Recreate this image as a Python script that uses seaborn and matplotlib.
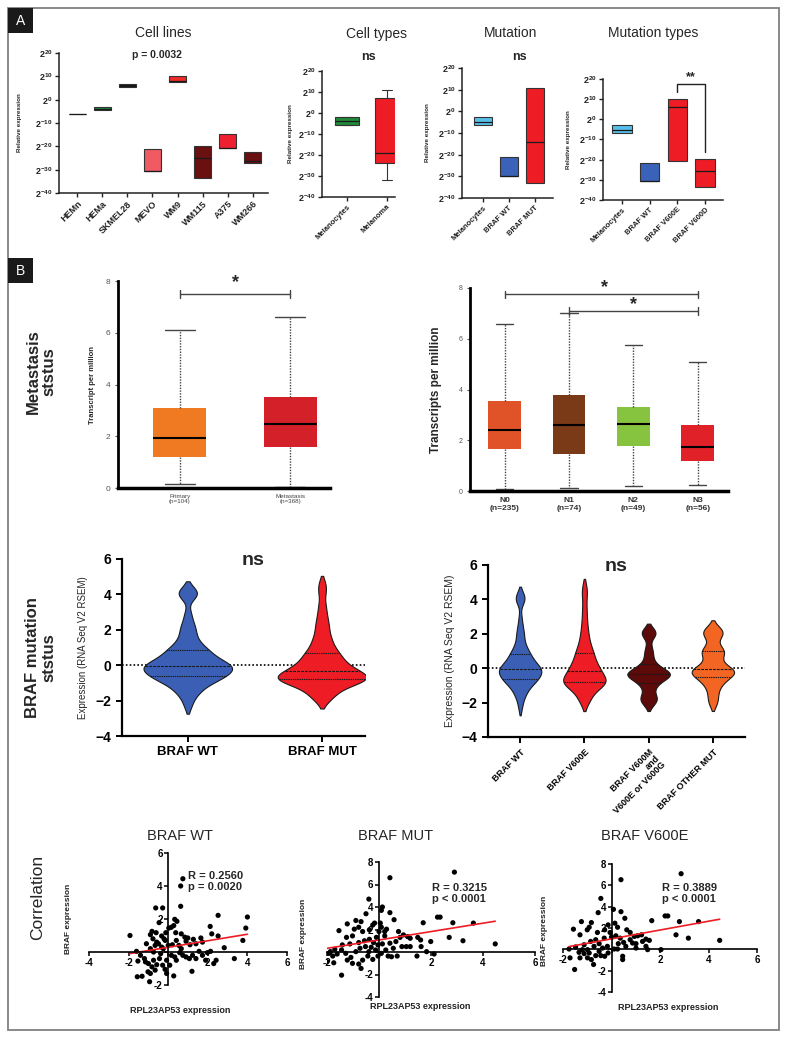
import numpy as np
import pandas as pd
import seaborn as sns
import matplotlib.pyplot as plt
from matplotlib.patches import Rectangle

# ---------------- data ----------------
# panel A: log2 relative expression (box = q1..q3, line = median)
cell_lines = ['HEMn', 'HEMa', 'SKMEL28', 'MEVO', 'WM9', 'WM115', 'A375', 'WM266']
cl_q3 = [-6.0, -3.3, 6.5, -21.0, 10.3, -19.7, -14.6, -22.3]
cl_q1 = [-6.0, -4.6, 5.6, -30.5, 7.7, -33.5, -20.6, -27.0]
cl_med = [-6.0, -4.0, 6.0, -30.5, 8.2, -25.0, -20.6, -26.3]
cl_colors = ['#222222', '#1e8a3c', '#111111', '#f05a62', '#ee2a2a', '#6a1010', '#ee2030', '#6a1010']

cell_types = ['Melanocytes', 'Melanoma']
ct_q3 = [-2.0, 7.0]
ct_q1 = [-5.7, -24.0]
ct_med = [-4.0, -19.0]
ct_hi = [-2.0, 11.0]
ct_lo = [-5.7, -32.0]
ct_colors = ['#1f8b3a', '#ee1c25']

mutation = ['Melanocytes', 'BRAF WT', 'BRAF MUT']
mu_q3 = [-2.8, -21.0, 10.6]
mu_q1 = [-6.4, -30.0, -33.0]
mu_med = [-5.0, -30.0, -14.0]
mu_colors = ['#58bfea', '#3a62b8', '#ee1c25']

mut_types = ['Melanocytes', 'BRAF WT', 'BRAF V600E', 'BRAF V600D']
mt_q3 = [-3.0, -21.5, 10.0, -19.5]
mt_q1 = [-7.0, -30.5, -20.8, -33.6]
mt_med = [-5.5, -30.5, 6.0, -25.6]
mt_colors = ['#58bfea', '#3a62b8', '#ee1c25', '#ee1c25']

# panel B: transcripts per million box stats
meta_labels = ['Primary\n(n=104)', 'Metastasis\n(n=368)']
meta_med = [1.93, 2.48]
meta_q1 = [1.2, 1.6]
meta_q3 = [3.09, 3.5]
meta_lo = [0.15, 0.05]
meta_hi = [6.1, 6.6]
meta_colors = ['#f07a22', '#d42028']

node_labels = ['N0\n(n=235)', 'N1\n(n=74)', 'N2\n(n=49)', 'N3\n(n=56)']
node_med = [2.4, 2.6, 2.65, 1.75]
node_q1 = [1.65, 1.45, 1.78, 1.2]
node_q3 = [3.55, 3.8, 3.3, 2.62]
node_lo = [0.07, 0.12, 0.18, 0.23]
node_hi = [6.6, 7.0, 5.77, 5.08]
node_colors = ['#e05228', '#7a3a18', '#86c440', '#e02128']

# violins: expression (RNA Seq V2 RSEM)
wt_expr = [4.3, 4.1, 4.0, 3.9, 2.9, 2.4, 2.1, 1.9, 1.6, 1.4, 1.2, 1.05, 0.95, 0.85, 0.75,
           0.7, 0.6, 0.5, 0.45, 0.35, 0.3, 0.2, 0.15, 0.1, 0.05, 0.0, -0.03, -0.05, -0.08,
           -0.1, -0.15, -0.2, -0.25, -0.3, -0.35, -0.4, -0.45, -0.5, -0.55, -0.6, -0.65,
           -0.7, -0.75, -0.8, -0.88, -0.95, -1.05, -1.15, -1.3, -1.45, -1.6, -1.85, -2.3]
mut_expr = [4.6, 4.1, 3.4, 2.9, 2.5, 2.2, 1.9, 1.6, 1.4, 1.2, 1.0, 0.85, 0.7, 0.6, 0.5,
            0.4, 0.3, 0.2, 0.1, 0.0, -0.08, -0.15, -0.2, -0.25, -0.3, -0.38, -0.45, -0.5,
            -0.55, -0.6, -0.65, -0.68, -0.7, -0.72, -0.75, -0.78, -0.8, -0.85, -0.9, -0.95,
            -1.0, -1.05, -1.15, -1.25, -1.35, -1.5, -1.65, -1.8, -2.0]
v600e_expr = [4.7, 4.2, 3.5, 2.9, 2.4, 2.0, 1.7, 1.4, 1.2, 1.0, 0.85, 0.75, 0.6, 0.45, 0.3,
              0.2, 0.1, 0.0, -0.1, -0.15, -0.2, -0.3, -0.4, -0.5, -0.6, -0.65, -0.7, -0.75,
              -0.8, -0.82, -0.85, -0.9, -0.95, -1.0, -1.1, -1.25, -1.4, -1.6, -1.8, -2.0]
v600m_expr = [2.2, 2.1, 2.0, 1.9, 1.2, 0.9, 0.6, 0.3, 0.1, 0.0, -0.1, -0.2, -0.25, -0.3,
              -0.35, -0.38, -0.4, -0.42, -0.45, -0.5, -0.6, -0.75, -0.9, -1.0, -1.2, -1.6,
              -1.7, -1.8, -1.9, -2.1]
other_expr = [2.4, 2.2, 2.1, 2.0, 1.9, 1.6, 1.2, 1.1, 1.0, 0.9, 0.8, 0.6, 0.4, 0.2, 0.1,
              0.0, -0.1, -0.15, -0.2, -0.22, -0.25, -0.3, -0.4, -0.5, -0.6, -0.7, -0.8,
              -1.0, -1.2, -1.5, -1.8, -2.1]
v_left_labels = ['BRAF WT', 'BRAF MUT']
v_left_colors = ['#3a5fb5', '#ee1c25']
v_right_labels = ['BRAF WT', 'BRAF V600E', 'BRAF V600M\nand\nV600E or V600G', 'BRAF OTHER MUT']
v_right_colors = ['#3a5fb5', '#ee1c25', '#5c0a0a', '#f26522']

# correlation scatter: RPL23AP53 (x) vs BRAF (y)
wt_x = [0.74, 0.63, 0.63, -0.63, -0.28, 0.33, 0.44, 2.52, 4.0, 3.92, 3.77, 2.12, 2.2, 2.52,
        2.83, 3.34, -1.93, -0.82, -0.9, -0.46, -0.61, 0.03, 0.16, 0.28, -0.15, -0.21, 0.41,
        0.84, 0.99, 1.27, 1.65, 1.73, 1.4, 1.98, 2.14, 1.89, 2.3, 2.42, 1.2, 0.28, -0.94,
        -1.56, -1.32, -1.02, -0.9, -1.53, -1.6, -1.4, -1.15, -1.0, -0.74, -0.58, -0.44,
        -0.28, -0.16, -0.08, 0.16, 0.33, 0.58, 0.74, 0.9, 1.07, 1.23, 1.4, -0.66, -0.49,
        -0.33, -0.9, -1.1, 0.0, 0.21, 0.54, 0.66, -0.25, -0.74, 0.41, 0.08, -0.38, -1.2,
        -0.82, -0.66, -0.08, -0.33, -0.12, 0.38, 0.66, 0.9, 1.1, 1.56, 1.73, -0.77, -0.58]
wt_y = [4.44, 4.0, 2.77, 2.67, 2.67, 1.98, 1.86, 2.22, 2.12, 1.45, 0.7, 1.55, 1.1, 0.97,
        0.26, -0.4, 1.0, 1.25, 1.05, 1.78, 1.17, 1.45, 1.5, 1.6, 0.7, 0.8, 0.7, 0.9, 0.85,
        0.77, 0.85, 0.6, 0.5, -0.04, 0.04, -0.5, -0.7, -0.5, -1.17, -1.45, -1.8, -1.5,
        -1.47, -1.2, -1.3, -0.55, 0.04, -0.2, -0.6, -0.7, -0.5, -0.77, -0.4, -0.8, -1.05,
        -0.5, -0.2, -0.3, -0.04, -0.2, -0.3, -0.4, -0.2, -0.4, 0.4, 0.5, 0.3, 0.2, 0.5,
        0.4, 0.44, 0.4, 0.2, 0.2, 0.0, -0.5, -0.8, -0.1, -0.4, -0.9, -1.1, -1.3, 0.97,
        1.17, 1.17, 1.1, 0.65, 0.44, 0.04, -0.2, 0.8, 0.6]

mut_x = [2.9, 0.42, -0.39, 0.13, 0.09, -0.5, 0.42, 0.58, 2.25, 2.35, 1.7, 2.84, 3.63, 2.7,
         3.23, 4.47, 1.99, 1.6, 1.49, 1.2, 1.1, 0.94, 0.75, 0.81, 0.65, 0.88, 0.7, 0.48,
         0.35, 1.46, 1.83, 2.12, 1.05, 1.2, 1.62, -1.54, -1.22, -0.89, -0.69, -0.78, -0.95,
         -1.25, -1.02, -0.63, -0.37, -0.24, -0.17, 0.05, 0.0, 0.22, -0.1, -0.37, -0.56,
         -0.78, -1.12, -1.41, -1.7, -1.87, -1.93, -1.78, -1.61, -1.44, -1.28, -1.08, -0.89,
         -0.73, -0.52, -0.3, -0.13, -0.43, -0.24, -0.63, -0.78, -0.69, -1.44, -1.74, -2.0,
         -1.02, -1.22, 0.09, 0.26, 0.42, 0.55, 0.13, -0.04, -0.21, -0.39, -0.04, 0.29,
         0.09, 0.22]
mut_y = [7.1, 6.6, 4.7, 4.0, 3.7, 3.4, 3.5, 2.87, 3.1, 3.1, 2.6, 2.6, 2.57, 1.3, 1.0, 0.72,
         0.93, 1.07, 1.3, 1.22, 1.37, 1.52, 1.82, 1.3, 0.93, 0.48, -0.36, -0.42, -0.36,
         -0.36, 0.03, -0.18, 0.48, 0.48, 0.48, 1.9, 2.5, 2.8, 2.7, 2.2, 2.03, 1.3, 1.43,
         1.82, 1.97, 2.4, 2.57, 2.57, 1.82, 1.43, 1.3, 1.13, 1.0, 0.84, 0.72, 0.63, 0.24,
         0.03, -0.12, -0.36, -0.18, 0.18, -0.12, -0.48, 0.03, 0.33, 0.48, 0.42, 0.18, -0.36,
         -0.66, -0.72, -1.07, -1.46, -2.06, -0.96, -0.87, -1.01, -0.72, -0.12, 0.18, 0.78,
         0.33, 0.72, 0.63, 0.84, 0.03, -0.36, 2.03, 2.2, 1.82]

v600e_x = [2.87, 0.39, -0.44, 0.08, -0.55, 0.39, 0.55, 2.21, 2.32, 1.66, 2.8, 3.59, 2.66,
           3.17, 4.46, 2.04, 1.42, 1.56, 1.24, 1.08, 0.94, 0.77, 0.63, 0.77, 0.87, 1.01,
           1.42, 1.49, 0.46, 0.46, 0.25, -1.57, -1.24, -0.92, -0.83, -1.0, -1.3, -0.58,
           -0.28, -0.14, 0.14, 0.25, -0.06, 0.0, 0.18, 0.36, -0.3, -0.65, -0.86, -1.13,
           -1.48, -1.75, -1.71, -1.52, -1.34, -1.13, -0.99, -0.83, -0.74, -0.65, -0.51,
           -0.37, -0.17, -0.14, -0.44, -0.99, -0.72, -0.51, 0.5, 0.59, 1.01, 1.28, 0.11,
           -1.2, -0.92, -0.28, -1.3, 0.28]
v600e_y = [7.09, 6.53, 4.77, 3.75, 3.44, 3.53, 2.91, 3.13, 3.13, 2.69, 2.6, 2.6, 1.36,
           1.05, 0.84, -0.03, 0.96, 0.84, 1.36, 1.27, 1.21, 1.58, 1.83, 0.9, 0.59, 0.12,
           0.28, -0.03, -0.65, -0.96, 0.03, 1.89, 2.6, 2.07, 2.51, 1.83, 1.36, 1.58, 1.83,
           2.29, 2.45, 2.07, 1.58, 1.15, 1.27, 1.05, 1.05, 0.9, 0.74, 0.43, 0.22, 0.03,
           -0.8, -1.89, -0.28, -0.4, -0.8, -0.96, -1.42, -0.59, -0.19, 0.12, 0.28, -0.34,
           -0.59, -0.03, 0.28, 0.53, 0.65, 0.28, 0.53, 0.74, 0.03, -0.03, -0.34, -0.65,
           -0.8, 0.53]

# ---------------- figure ----------------
W, H = 787, 1038
sns.set_style('ticks')
plt.rcParams['font.family'] = ['Liberation Sans', 'DejaVu Sans']
plt.rcParams['mathtext.fontset'] = 'custom'
plt.rcParams['mathtext.rm'] = 'Liberation Sans'
plt.rcParams['mathtext.bf'] = 'Liberation Sans:bold'

fig = plt.figure(figsize=(W / 100, H / 100), dpi=100)


def px_axes(x0, y0, x1, y1):
    return fig.add_axes([x0 / W, 1 - y1 / H, (x1 - x0) / W, (y1 - y0) / H])


def fig_text(x, y, s, **kw):
    fig.text(x / W, 1 - y / H, s, **kw)


# frame and panel letters
fig.add_artist(Rectangle((8 / W, 1 - 1030 / H), 771 / W, 1022 / H, transform=fig.transFigure,
                         fill=False, edgecolor='#808080', lw=1.3))
for lab, y0 in [('A', 8), ('B', 258)]:
    fig.add_artist(Rectangle((8 / W, 1 - (y0 + 25) / H), 25 / W, 25 / H, transform=fig.transFigure,
                             facecolor='#1a1a1a', edgecolor='none'))
    fig_text(20.5, y0 + 13, lab, color='white', fontsize=10, ha='center', va='center')


# ---------- panel A ----------
def float_box(ax, names, q1, q3, med, colors, width, hi=None, lo=None, tick_fs=5.5):
    stats = []
    for i in range(len(names)):
        stats.append(dict(med=med[i], q1=q1[i], q3=q3[i],
                          whislo=lo[i] if lo else q1[i], whishi=hi[i] if hi else q3[i]))
    bp = ax.bxp(stats, positions=range(len(names)), widths=width, patch_artist=True,
                showfliers=False, showcaps=hi is not None, capwidths=width * 0.45,
                boxprops=dict(edgecolor='#333333', lw=0.8),
                medianprops=dict(color='#1a1a1a', lw=0.9),
                whiskerprops=dict(color='#333333', lw=0.8),
                capprops=dict(color='#333333', lw=0.8))
    for patch, c in zip(bp['boxes'], colors):
        patch.set_facecolor(c)
    ax.set_ylim(-40, 20)
    ax.set_yticks(range(-40, 21, 10))
    ax.set_yticklabels([r'$\mathbf{2^{%d}}$' % v for v in range(-40, 21, 10)], fontsize=6.5)
    ax.set_xticks(range(len(names)))
    ax.set_xticklabels(names, rotation=45, ha='right', rotation_mode='anchor',
                       fontsize=tick_fs, fontweight='bold')
    sns.despine(ax=ax)
    for s in ['left', 'bottom']:
        ax.spines[s].set_linewidth(1.1)
        ax.spines[s].set_color('#222222')
    ax.tick_params(length=3, width=1, pad=1.5, colors='#222222')
    ax.set_ylabel('Relative expression', fontsize=4.5, fontweight='bold')


ax = px_axes(59, 53, 268, 193)
float_box(ax, cell_lines, cl_q1, cl_q3, cl_med, cl_colors, 0.68, tick_fs=6.5)
ax.set_xlim(-0.72, 7.6)
ax.yaxis.set_label_coords(-0.177, 0.5)
ax.text(0.5, 1.14, 'Cell lines', transform=ax.transAxes, ha='center', va='center', fontsize=10)
ax.text(0.47, 0.986, 'p = 0.0032', transform=ax.transAxes, ha='center', va='center',
        fontsize=7.5, fontweight='bold')

ax = px_axes(322, 71, 395, 197)
float_box(ax, cell_types, ct_q1, ct_q3, ct_med, ct_colors, 0.6, hi=ct_hi, lo=ct_lo)
ax.set_xlim(-0.62, 1.2)
ax.yaxis.set_label_coords(-0.4, 0.5)
ax.text(0.74, 1.29, 'Cell types', transform=ax.transAxes, ha='center', va='center', fontsize=10)
ax.text(0.64, 1.11, 'ns', transform=ax.transAxes, ha='center', va='center',
        fontsize=9, fontweight='bold')

ax = px_axes(462, 68, 553, 198)
float_box(ax, mutation, mu_q1, mu_q3, mu_med, mu_colors, 0.68)
ax.set_xlim(-0.8, 2.7)
ax.yaxis.set_label_coords(-0.35, 0.5)
ax.text(0.53, 1.27, 'Mutation', transform=ax.transAxes, ha='center', va='center', fontsize=10)
ax.text(0.63, 1.085, 'ns', transform=ax.transAxes, ha='center', va='center',
        fontsize=9, fontweight='bold')

ax = px_axes(603, 79, 723, 200)
float_box(ax, mut_types, mt_q1, mt_q3, mt_med, mt_colors, 0.7)
ax.set_xlim(-0.69, 3.65)
ax.yaxis.set_label_coords(-0.27, 0.5)
ax.text(0.42, 1.38, 'Mutation types', transform=ax.transAxes, ha='center', va='center', fontsize=10)
ax.plot([2, 2, 3, 3], [13.4, 17.3, 17.3, -16.3], color='#222222', lw=1, clip_on=False)
ax.text(2.5, 21.0, '**', ha='center', va='center', fontsize=9, fontweight='bold')


# ---------- panel B: boxplots ----------
def tpm_box(ax, labels, med, q1, q3, lo, hi, colors, width):
    stats = [dict(med=med[i], q1=q1[i], q3=q3[i], whislo=lo[i], whishi=hi[i])
             for i in range(len(labels))]
    bp = ax.bxp(stats, positions=range(len(labels)), widths=width, patch_artist=True,
                showfliers=False, capwidths=0.27,
                boxprops=dict(edgecolor='none'),
                medianprops=dict(color='black', lw=1.5),
                whiskerprops=dict(color='#444444', lw=1, ls=(0, (1, 1))),
                capprops=dict(color='#444444', lw=1))
    for patch, c in zip(bp['boxes'], colors):
        patch.set_facecolor(c)
    ax.set_ylim(0, 8)
    ax.set_yticks([0, 2, 4, 6, 8])
    sns.despine(ax=ax)
    ax.spines['left'].set_linewidth(2)
    ax.spines['bottom'].set_linewidth(2.5)
    ax.spines['left'].set_color('black')
    ax.spines['bottom'].set_color('black')


def bracket(ax, x0, x1, y, star_x, star_y):
    ax.plot([x0, x1], [y, y], color='#444444', lw=1)
    ax.plot([x0, x0], [y - 0.15, y + 0.15], color='#444444', lw=1)
    ax.plot([x1, x1], [y - 0.15, y + 0.15], color='#444444', lw=1)
    ax.text(star_x, star_y, '*', ha='center', va='center', fontsize=13, fontweight='bold')


ax = px_axes(118, 281, 330, 488)
tpm_box(ax, meta_labels, meta_med, meta_q1, meta_q3, meta_lo, meta_hi, meta_colors, 0.48)
ax.set_xlim(-0.56, 1.36)
ax.set_xticks(range(2))
ax.set_xticklabels(meta_labels, fontsize=4.5, color='#444444')
ax.tick_params(axis='y', labelsize=6, colors='#555555', length=2)
ax.tick_params(axis='x', length=0, pad=4)
ax.set_ylabel('Transcript per million', fontsize=5.5, fontweight='bold')
ax.yaxis.set_label_coords(-0.104, 0.5)
bracket(ax, 0, 1, 7.5, 0.5, 7.95)

ax = px_axes(470, 288, 728, 491)
tpm_box(ax, node_labels, node_med, node_q1, node_q3, node_lo, node_hi, node_colors, 0.51)
ax.set_xlim(-0.54, 3.47)
ax.set_xticks(range(4))
ax.set_xticklabels(node_labels, fontsize=6, fontweight='bold', color='#333333')
ax.tick_params(axis='y', labelsize=5, colors='#555555', length=2)
ax.tick_params(axis='x', length=0, pad=4)
ax.set_ylabel('Transcripts per million', fontsize=8.5, fontweight='bold')
ax.yaxis.set_label_coords(-0.11, 0.5)
bracket(ax, 0, 3, 7.75, 1.55, 8.0)
bracket(ax, 1, 3, 7.1, 2.0, 7.35)


# ---------- panel B: violins ----------
def violins(ax, groups, labels, colors, width):
    df = pd.DataFrame({'group': [lab for g, lab in zip(groups, labels) for _ in g],
                       'expr': [v for g in groups for v in g]})
    sns.violinplot(data=df, x='group', y='expr', hue='group', order=labels, hue_order=labels,
                   palette=colors, inner='quart', density_norm='width', width=width,
                   bw_adjust=0.5, cut=1.3, linewidth=0.8, linecolor='#1a1a1a',
                   saturation=1, legend=False, ax=ax)
    ax.axhline(0, color='black', lw=1.2, ls=(0, (1, 1.3)), zorder=0)
    ax.set_ylim(-4, 6)
    ax.set_yticks([-4, -2, 0, 2, 4, 6])
    ax.set_xlabel('')
    sns.despine(ax=ax)
    for s in ['left', 'bottom']:
        ax.spines[s].set_linewidth(1.6)
        ax.spines[s].set_color('black')
    ax.tick_params(width=1.4, length=4, colors='black')
    for lab in ax.get_yticklabels():
        lab.set_fontweight('bold')
        lab.set_fontsize(10)


ax = px_axes(122, 559, 365, 736)
violins(ax, [wt_expr, mut_expr], v_left_labels, v_left_colors, 0.66)
ax.set_xlim(-0.49, 1.32)
for lab in ax.get_xticklabels():
    lab.set_fontweight('bold')
    lab.set_fontsize(9.5)
ax.set_ylabel('Expression (RNA Seq V2 RSEM)', fontsize=7)
ax.yaxis.set_label_coords(-0.14, 0.5)
ax.text(0.54, 0.99, 'ns', transform=ax.transAxes, ha='center', va='center',
        fontsize=14, fontweight='bold')

ax = px_axes(488, 565, 745, 737)
violins(ax, [wt_expr, v600e_expr, v600m_expr, other_expr], v_right_labels, v_right_colors, 0.66)
ax.set_xlim(-0.5, 3.5)
ax.set_xticks(range(4))
ax.set_xticklabels(v_right_labels, rotation=45, ha='right', rotation_mode='anchor',
                   fontsize=6.5, fontweight='bold', linespacing=1.0)
ax.set_ylabel('Expression (RNA Seq V2 RSEM)', fontsize=7.5)
ax.yaxis.set_label_coords(-0.128, 0.5)
ax.text(0.5, 0.99, 'ns', transform=ax.transAxes, ha='center', va='center',
        fontsize=14, fontweight='bold')


# ---------- correlation ----------
def corr_plot(ax, x, y, xlim, ylim, xt, yt, title, tpos, stat, spos, ylab_pos, xlab_pos):
    sns.scatterplot(x=x, y=y, color='black', s=14, edgecolor='none', ax=ax)
    sns.regplot(x=x, y=y, scatter=False, ci=None, truncate=True, ax=ax,
                line_kws=dict(color='#ee1c25', lw=1.2))
    ax.set_xlim(*xlim)
    ax.set_ylim(*ylim)
    for s in ['top', 'right']:
        ax.spines[s].set_visible(False)
    for s in ['left', 'bottom']:
        ax.spines[s].set_position(('data', 0))
        ax.spines[s].set_linewidth(1.2)
        ax.spines[s].set_color('black')
    ax.set_xticks(xt)
    ax.set_xticklabels(['' if v == 0 else str(v) for v in xt], fontsize=7, fontweight='bold')
    ax.set_yticks(yt)
    ax.set_yticklabels(['' if v == 0 else str(v) for v in yt], fontsize=7, fontweight='bold')
    ax.tick_params(length=3, width=1.1, pad=1, colors='black')
    ax.set_xlabel('')
    ax.set_ylabel('')
    ax.text(tpos[0], tpos[1], title, transform=ax.transAxes, ha='center', va='center', fontsize=10.5)
    ax.text(spos[0], spos[1], stat, ha='left', va='center', fontsize=8, fontweight='bold',
            linespacing=1.15)
    ax.text(ylab_pos[0], ylab_pos[1], 'BRAF expression', transform=ax.transAxes, rotation=90,
            ha='center', va='center', fontsize=6, fontweight='bold', color='#222222')
    ax.text(xlab_pos[0], xlab_pos[1], 'RPL23AP53 expression', transform=ax.transAxes,
            ha='center', va='center', fontsize=6.5, fontweight='bold', color='#222222')


ax = px_axes(89, 853, 287, 985)
corr_plot(ax, wt_x, wt_y, (-4, 6), (-2, 6), [-4, -2, 0, 2, 4, 6], [-2, 0, 2, 4, 6],
          'BRAF WT', (0.46, 1.13), 'R = 0.2560\np = 0.0020', (1.0, 4.25),
          (-0.106, 0.5), (0.46, -0.19))

ax = px_axes(327, 862, 535, 997)
corr_plot(ax, mut_x, mut_y, (-2, 6), (-4, 8), [-2, 0, 2, 4, 6], [-4, -2, 0, 2, 4, 6, 8],
          'BRAF MUT', (0.33, 1.19), 'R = 0.3215\np < 0.0001', (2.05, 5.2),
          (-0.115, 0.47), (0.45, -0.074))

ax = px_axes(563, 864, 757, 992)
corr_plot(ax, v600e_x, v600e_y, (-2, 6), (-4, 8), [-2, 0, 2, 4, 6], [-4, -2, 0, 2, 4, 6, 8],
          'BRAF V600E', (0.42, 1.22), 'R = 0.3889\np < 0.0001', (2.1, 5.2),
          (-0.093, 0.48), (0.54, -0.12))

# row labels
fig_text(41, 372, 'Metastasis\nststus', rotation=90, ha='center', va='center',
         fontsize=12, fontweight='bold', linespacing=1.1)
fig_text(41, 658, 'BRAF mutation\nststus', rotation=90, ha='center', va='center',
         fontsize=12, fontweight='bold', linespacing=1.1)
fig_text(38, 897, 'Correlation', rotation=90, ha='center', va='center', fontsize=12.5)

fig.savefig('out.png', dpi=100)
